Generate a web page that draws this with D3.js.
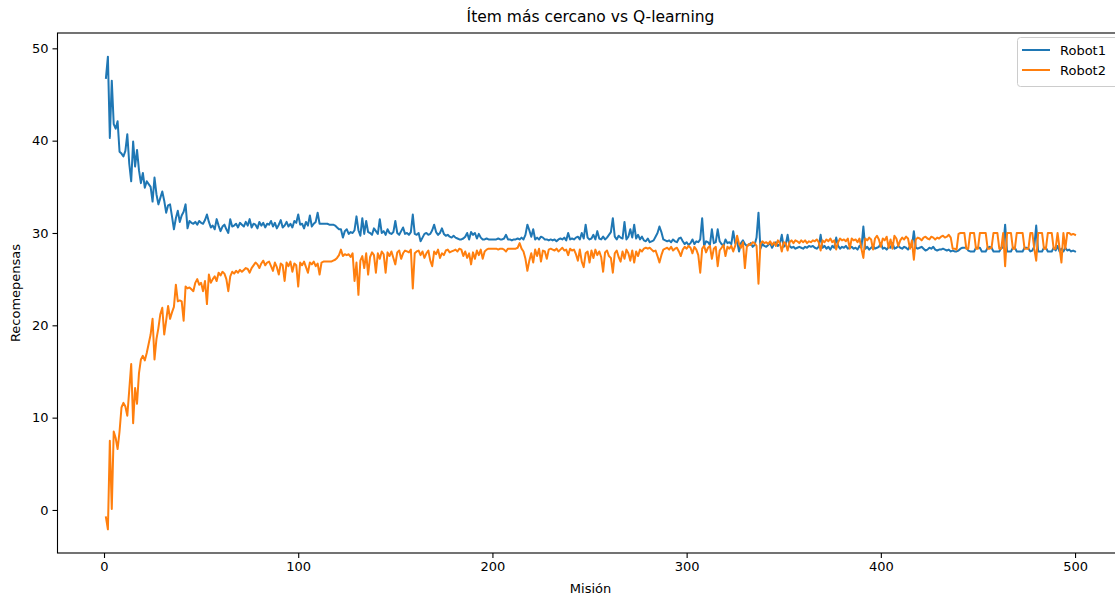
<!DOCTYPE html>
<html>
<head>
<meta charset="utf-8">
<script src="https://cdn.jsdelivr.net/npm/d3@7"></script>
<style>
  html, body { margin: 0; padding: 0; background: #fff; }
  svg { display: block; font-family: "DejaVu Sans", sans-serif; }
</style>
</head>
<body>
<svg id="chart" width="1115" height="597"></svg>
<script>
// Rewards per mission for each robot (missions 1..500)
const robot1 = [
  46.8, 49.1, 40.3, 46.5, 41.8, 41.3, 42.1, 38.8, 38.6, 38.3,
  38.9, 40.7, 37.5, 35.6, 39.9, 37.2, 39.0, 36.8, 35.4, 36.5,
  34.9, 35.6, 35.3, 35.0, 33.4, 36.0, 34.2, 33.1, 33.8, 34.5,
  33.5, 32.2, 33.0, 33.1, 31.8, 30.4, 31.6, 32.4, 31.2, 31.9,
  32.3, 33.1, 30.5, 31.3, 31.1, 31.0, 31.2, 30.9, 31.3, 31.1,
  31.0, 31.4, 32.0, 31.2, 30.6, 30.8, 30.4, 31.5, 30.8, 30.2,
  30.7, 30.9, 30.4, 30.0, 31.5, 30.7, 30.8, 31.0, 30.6, 31.1,
  30.9, 30.7, 31.2, 30.8, 31.5, 30.6, 31.0, 30.9, 30.5, 31.2,
  30.8, 31.1, 30.6, 31.0, 30.9, 31.3, 30.7, 31.1, 30.5, 30.9,
  31.4, 30.6, 30.8, 31.2, 30.7, 31.0, 30.6, 31.3, 31.1, 32.0,
  30.9, 31.0, 30.5, 31.2, 30.8, 31.9, 30.7, 31.0, 31.2, 32.2,
  31.0, 31.0, 31.0, 31.0, 31.0, 30.9, 30.9, 30.9, 30.8, 30.6,
  30.4, 30.4, 29.5, 30.2, 30.4, 29.9, 30.1, 30.0, 30.3, 31.8,
  30.3, 29.7, 31.6, 29.9, 31.3, 30.1, 30.0, 29.8, 30.5, 30.2,
  29.9, 31.5, 30.0, 30.2, 29.8, 30.4, 30.0, 29.9, 30.1, 31.3,
  30.0, 29.8, 30.2, 30.6, 29.9, 30.0, 29.8, 30.1, 32.0, 29.9,
  29.8, 30.0, 29.1, 29.5, 29.9, 30.0, 29.8, 29.9, 30.3, 30.9,
  30.1, 29.8, 30.0, 30.5, 29.9, 29.7, 29.8, 29.6, 29.5, 29.7,
  29.5, 29.4, 29.3, 29.3, 29.4, 29.6, 30.0, 29.3, 30.1, 29.8,
  30.0, 29.4, 29.9, 29.5, 29.3, 29.3, 29.4, 29.3, 29.3, 29.3,
  29.3, 29.3, 29.4, 29.3, 29.3, 29.4, 29.8, 29.3, 29.3, 29.2,
  29.3, 29.3, 29.4, 29.3, 29.5, 29.3, 29.8, 30.9, 30.3, 29.6,
  30.4, 29.3, 29.5, 29.3, 29.6, 29.5, 29.3, 29.3, 29.2, 29.3,
  29.2, 29.3, 29.1, 29.3, 29.4, 29.3, 29.5, 29.2, 30.0, 29.3,
  29.4, 29.3, 29.5, 29.6, 29.3, 30.0, 29.4, 30.9, 29.5, 29.3,
  29.4, 29.8, 29.3, 30.2, 29.4, 29.3, 29.6, 29.3, 29.5, 29.8,
  30.1, 31.6, 29.6, 29.3, 29.7, 29.5, 29.4, 31.2, 29.3, 29.6,
  30.4, 29.5, 30.9, 29.4, 29.8, 29.3, 29.6, 29.2, 29.1, 29.4,
  29.0, 29.1, 29.2, 29.6, 30.0, 30.7, 30.1, 29.3, 29.2, 29.1,
  29.2, 29.0, 29.3, 29.1, 29.0, 29.4, 29.5, 29.1, 28.8, 29.0,
  28.7, 28.9, 29.3, 28.8, 29.1, 29.0, 29.3, 31.6, 28.6, 29.1,
  29.0, 28.7, 30.4, 28.9, 29.0, 30.4, 29.1, 28.8, 28.6, 29.3,
  28.9, 29.0, 28.8, 30.2, 28.9, 29.1, 28.0, 28.9, 29.2, 28.8,
  28.6, 28.7, 28.9, 28.5, 28.7, 29.5, 32.2, 28.3, 28.8, 28.6,
  28.5, 28.7, 28.9, 28.4, 28.8, 29.0, 28.6, 28.8, 29.8, 28.5,
  28.7, 29.8, 28.6, 28.4, 28.5, 28.3, 28.4, 28.5, 28.4, 28.3,
  28.5, 28.4, 28.6, 28.5, 28.6, 28.4, 28.3, 28.5, 29.8, 28.4,
  28.6, 28.3, 28.5, 28.2, 28.6, 28.4, 29.5, 28.6, 28.3, 28.5,
  28.4, 28.6, 28.3, 28.4, 28.5, 28.3, 28.4, 28.2, 28.6, 28.4,
  30.7, 28.3, 28.5, 28.2, 28.4, 28.6, 28.3, 28.4, 28.5, 28.9,
  28.3, 28.4, 28.2, 28.5, 28.4, 28.9, 28.3, 28.4, 28.6, 28.4,
  28.3, 28.5, 28.4, 28.2, 28.6, 28.5, 30.2, 28.4, 28.3, 28.4,
  28.5, 28.3, 28.1, 28.2, 28.4, 28.3, 28.5, 28.2, 28.1, 28.2,
  28.2, 28.3, 28.2, 28.1, 28.2, 28.0, 28.1, 28.0, 28.0, 28.1,
  28.3, 28.4, 28.4, 28.4, 28.1, 28.0, 28.0, 28.0, 28.4, 28.4,
  28.4, 28.0, 28.0, 28.0, 28.4, 28.5, 28.4, 28.0, 28.0, 28.0,
  28.0, 28.4, 28.4, 30.9, 28.0, 28.0, 28.0, 28.4, 28.4, 28.0,
  28.0, 28.0, 28.0, 28.4, 28.4, 28.3, 28.0, 28.1, 28.5, 30.8,
  28.0, 28.0, 28.0, 28.4, 28.4, 28.0, 28.0, 28.0, 28.4, 28.1,
  28.6, 28.0, 28.3, 28.0, 28.4, 28.1, 28.2, 28.0, 28.1, 28.0
];

const robot2 = [
  -0.8, -2.1, 7.5, 0.1, 8.5, 7.8, 6.6, 8.5, 11.1, 11.6,
  11.2, 10.2, 13.0, 15.8, 9.4, 13.2, 11.5, 14.8, 16.3, 16.7,
  16.2, 17.0, 18.0, 19.0, 20.7, 16.3, 18.5, 19.7, 21.2, 21.9,
  19.0, 20.5, 22.1, 20.7, 21.4, 22.0, 24.4, 22.6, 22.7, 22.6,
  20.5, 24.2, 24.0, 24.1, 23.9, 23.7, 24.6, 25.0, 24.4, 24.6,
  23.7, 24.8, 22.3, 25.5, 24.6, 25.0, 25.3, 24.8, 25.7, 25.4,
  25.8, 25.6, 25.0, 23.7, 25.3, 25.8, 25.6, 25.9, 25.7, 26.0,
  25.8, 26.0, 26.2, 26.1, 25.7, 26.2, 26.5, 26.8, 26.6, 26.2,
  26.7, 27.0, 26.5, 26.8, 26.9, 26.4, 25.9, 26.8, 26.3, 25.5,
  26.7, 26.5, 24.8, 26.8, 26.4, 26.9, 25.8, 26.7, 26.5, 24.2,
  26.8, 26.5, 26.9, 26.3, 25.7, 26.8, 26.6, 26.9, 26.4, 26.7,
  25.5, 26.8, 26.9, 26.9, 26.9, 26.9, 26.9, 27.0, 27.1, 27.3,
  27.6, 28.2, 27.5, 27.7, 27.6, 27.7, 27.4, 27.8, 24.8, 26.8,
  23.3, 27.0, 27.5, 26.2, 27.8, 25.5, 27.4, 27.9, 27.6, 25.7,
  27.8, 27.2, 28.0, 27.7, 25.7, 27.9, 27.5, 28.0, 27.3, 26.6,
  27.9, 28.1, 27.2, 27.8, 28.1, 28.0, 27.9, 28.2, 24.0, 27.8,
  28.0, 28.1, 27.6, 28.0, 27.3, 27.8, 28.1, 27.0, 26.4, 28.0,
  27.7, 28.2, 27.3, 27.8, 27.6, 28.1, 28.2, 27.9, 28.0, 28.1,
  28.2, 28.0, 28.3, 28.2, 27.5, 28.0, 27.3, 27.8, 26.6, 27.9,
  27.2, 28.1, 27.6, 28.2, 27.2, 28.0, 28.2, 28.3, 28.3, 28.3,
  28.3, 28.3, 28.2, 28.3, 28.3, 28.2, 28.0, 28.3, 28.3, 28.3,
  28.3, 28.3, 28.4, 28.9, 28.3, 28.0, 27.2, 25.9, 27.0, 27.8,
  26.8, 28.2, 27.5, 28.3, 26.9, 28.1, 28.0, 27.2, 28.2, 28.3,
  28.2, 28.1, 28.3, 28.0, 28.2, 28.4, 28.1, 28.2, 27.6, 28.3,
  28.1, 28.2, 27.7, 27.0, 28.2, 26.9, 26.3, 27.8, 28.0, 26.8,
  28.1, 27.3, 28.2, 27.6, 28.0, 27.4, 25.8, 27.9, 28.1, 27.5,
  27.3, 25.7, 27.8, 28.1, 27.4, 26.9, 28.0, 27.2, 28.2, 27.8,
  27.0, 28.1, 26.8, 28.0, 27.5, 28.2, 28.0, 28.3, 28.4, 28.3,
  28.4, 28.2, 28.0, 28.1, 27.5, 26.8, 27.6, 28.2, 28.3, 28.4,
  28.2, 28.5, 28.1, 28.3, 28.4, 28.0, 27.5, 28.2, 28.5, 28.3,
  28.6, 28.4, 27.8, 28.5, 28.2, 27.6, 25.7, 28.3, 28.6, 27.9,
  28.4, 28.6, 27.2, 28.3, 28.5, 26.4, 28.1, 28.4, 28.7, 27.5,
  28.5, 28.3, 28.6, 28.0, 28.6, 29.7, 28.8, 28.4, 29.0, 26.2,
  28.5, 28.8, 28.7, 29.0, 28.9, 28.6, 24.5, 28.8, 29.1, 28.9,
  29.0, 28.8, 29.1, 28.7, 29.0, 28.6, 29.2, 28.9, 28.0, 29.0,
  28.9, 28.1, 29.0, 29.2, 28.9, 29.2, 29.1, 28.9, 29.2, 29.0,
  29.2, 28.9, 29.1, 29.0, 29.2, 29.1, 29.3, 29.0, 28.1, 29.2,
  29.0, 29.3, 29.1, 29.4, 29.0, 29.2, 28.2, 29.0, 29.4, 29.2,
  29.3, 29.1, 29.4, 28.3, 29.4, 29.2, 29.3, 29.0, 29.4, 28.3,
  27.3, 29.4, 29.2, 29.5, 29.3, 28.2, 29.4, 29.7, 29.3, 28.5,
  29.4, 29.2, 29.6, 28.4, 29.3, 28.3, 29.7, 29.4, 28.6, 29.2,
  29.5, 29.3, 29.6, 29.4, 28.3, 29.2, 27.1, 29.3, 29.5, 29.4,
  29.2, 29.5, 29.6, 29.4, 29.3, 29.6, 29.5, 29.3, 29.5, 29.4,
  29.6, 29.7, 29.5, 29.6, 29.8, 29.5, 28.3, 28.3, 28.2, 29.9,
  30.0, 30.0, 30.0, 28.3, 28.3, 30.0, 30.0, 30.0, 28.3, 28.3,
  30.0, 30.0, 30.0, 30.0, 28.3, 28.3, 28.4, 30.0, 30.0, 30.0,
  28.3, 28.3, 30.0, 26.4, 30.0, 30.0, 30.0, 28.3, 28.3, 30.0,
  30.0, 30.0, 30.0, 28.3, 28.3, 28.3, 30.0, 30.0, 28.3, 27.0,
  30.0, 30.0, 30.0, 28.3, 28.3, 30.0, 30.0, 30.0, 28.3, 28.3,
  30.0, 28.4, 26.8, 30.0, 28.3, 30.0, 30.0, 29.8, 29.9, 29.8
];

const seriesNames = ["Robot1", "Robot2"];
const seriesColors = ["#1f77b4", "#ff7f0e"];
const xTicks = [0, 100, 200, 300, 400, 500];
const yTicks = [0, 10, 20, 30, 40, 50];
const titleText = "Ítem más cercano vs Q-learning";
const xLabel = "Misión";
const yLabel = "Recomepensas";

const missions = robot1.map((_, i) => i + 1);
const series = [robot1, robot2];

const svg = d3.select("#chart");
// Axes box; the right-hand side runs past the visible canvas
const plot = { left: 57.5, top: 33, right: 1123.5, bottom: 553 };

// Axis limits padded by 5% of the data span on each side
const xMin = d3.min(missions), xMax = d3.max(missions);
const xPad = (xMax - xMin) * 0.05;
const allY = robot1.concat(robot2);
const yMin = d3.min(allY), yMax = d3.max(allY);
const yPad = (yMax - yMin) * 0.05;

const x = d3.scaleLinear().domain([xMin - xPad, xMax + xPad]).range([plot.left, plot.right]);
const y = d3.scaleLinear().domain([yMin - yPad, yMax + yPad]).range([plot.bottom, plot.top]);

// Lines
const line = d3.line()
  .x((d, i) => x(missions[i]))
  .y(d => y(d));

series.forEach((s, k) => {
  svg.append("path")
    .datum(s)
    .attr("fill", "none")
    .attr("stroke", seriesColors[k])
    .attr("stroke-width", 2)
    .attr("stroke-linejoin", "round")
    .attr("stroke-linecap", "square")
    .attr("d", line);
});

// Axes
const xAxis = d3.axisBottom(x).tickValues(xTicks).tickSize(5).tickPadding(4).tickFormat(d3.format("d"));
const yAxis = d3.axisLeft(y).tickValues(yTicks).tickSize(5).tickPadding(4).tickFormat(d3.format("d"));

const gx = svg.append("g").attr("transform", `translate(0,${plot.bottom})`).call(xAxis);
const gy = svg.append("g").attr("transform", `translate(${plot.left},0)`).call(yAxis);
[gx, gy].forEach(g => {
  g.select(".domain").remove();
  g.selectAll(".tick line").attr("stroke", "#000").attr("stroke-width", 1.1);
  g.selectAll(".tick text")
    .attr("fill", "#000")
    .style("font-family", "DejaVu Sans")
    .style("font-size", "13px");
});

// Frame (spines)
svg.append("rect")
  .attr("x", plot.left)
  .attr("y", plot.top)
  .attr("width", plot.right - plot.left)
  .attr("height", plot.bottom - plot.top)
  .attr("fill", "none")
  .attr("stroke", "#000")
  .attr("stroke-width", 1.1);

// Title and axis labels (centred on the full axes box)
svg.append("text")
  .attr("x", (plot.left + plot.right) / 2)
  .attr("y", 22)
  .attr("text-anchor", "middle")
  .style("font-size", "15.5px")
  .text(titleText);

svg.append("text")
  .attr("x", (plot.left + plot.right) / 2)
  .attr("y", 593)
  .attr("text-anchor", "middle")
  .style("font-size", "13px")
  .text(xLabel);

svg.append("text")
  .attr("transform", `translate(20,${(plot.top + plot.bottom) / 2}) rotate(-90)`)
  .attr("text-anchor", "middle")
  .style("font-size", "13px")
  .text(yLabel);

// Legend
const legend = svg.append("g");
legend.append("rect")
  .attr("x", 1017.5)
  .attr("y", 37.5)
  .attr("width", 110)
  .attr("height", 49)
  .attr("rx", 3)
  .attr("fill", "#fff")
  .attr("fill-opacity", 0.8)
  .attr("stroke", "#ccc")
  .attr("stroke-width", 1);

seriesNames.forEach((name, k) => {
  const cy = 50 + k * 20;
  legend.append("line")
    .attr("x1", 1022).attr("x2", 1050)
    .attr("y1", cy).attr("y2", cy)
    .attr("stroke", seriesColors[k])
    .attr("stroke-width", 2);
  legend.append("text")
    .attr("x", 1060)
    .attr("y", cy + 4.5)
    .style("font-size", "13px")
    .text(name);
});
</script>
</body>
</html>
